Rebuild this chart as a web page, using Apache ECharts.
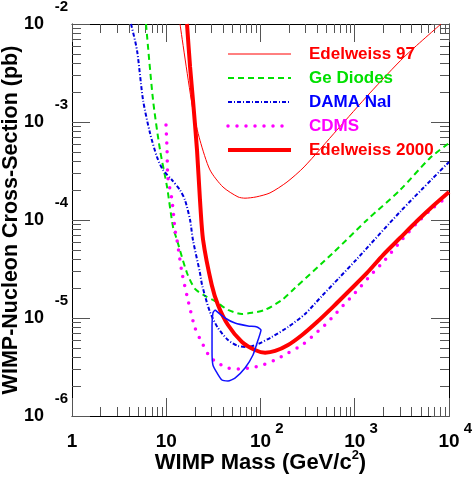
<!DOCTYPE html>
<html>
<head>
<meta charset="utf-8">
<script src="https://cdn.jsdelivr.net/npm/echarts@6/dist/echarts.min.js"></script>
<style>
html,body{margin:0;padding:0;background:#fff;}
#c{width:474px;height:481px;}
</style>
</head>
<body>
<div id="c"></div>
<script>
// ---- axis ranges / ticks ----
const X_MIN = 1, X_MAX = 1e4;
const Y_MIN = 1e-6, Y_MAX = 1e-2;
const xMinorTicks = [2,3,4,5,6,7,8,9,20,30,40,50,60,70,80,90,200,300,400,500,600,700,800,900,2000,3000,4000,5000,6000,7000,8000,9000];
const yMinorTicks = [2e-6,3e-6,4e-6,5e-6,6e-6,7e-6,8e-6,9e-6,2e-5,3e-5,4e-5,5e-5,6e-5,7e-5,8e-5,9e-5,2e-4,3e-4,4e-4,5e-4,6e-4,7e-4,8e-4,9e-4,2e-3,3e-3,4e-3,5e-3,6e-3,7e-3,8e-3,9e-3];

// ---- series data ----
const ed97X = [14.0, 19.2, 22.8, 29.1, 40, 57.7, 68.5, 90, 126, 191, 290, 649, 1452, 3334, 8230];
const ed97Y = [1e-2, 1.32e-3, 6.5e-4, 3.24e-4, 2.17e-4, 1.72e-4, 1.67e-4, 1.72e-4, 1.89e-4, 2.44e-4, 3.48e-4, 8.3e-4, 1.98e-3, 4.6e-3, 1e-2];

const geX = [6.10, 7.24, 8.59, 10.2, 11.8, 13.0, 16.6, 20.2, 25.8, 32.9, 45.2, 63.6, 81.2, 111.6, 169, 232, 588, 1349, 3021, 6286, 1e4];
const geY = [1e-2, 1.68e-3, 5.18e-4, 2.17e-4, 8.48e-5, 6.25e-5, 2.88e-5, 1.98e-5, 1.68e-5, 1.49e-5, 1.21e-5, 1.10e-5, 1.13e-5, 1.21e-5, 1.53e-5, 2.02e-5, 4.61e-5, 1.0e-4, 2.02e-4, 4.29e-4, 6.1e-4];

const damaX = [4.23, 4.89, 5.67, 6.72, 7.98, 9.24, 11.5, 14.0, 15.8, 17.9, 19.2, 22.8, 24.0, 29.1, 35.4, 45.2, 57.7, 73.7, 94.1, 132, 196, 297, 449, 681, 1031, 3021, 6765, 1e4];
const damaY = [1e-2, 5.43e-3, 1.68e-3, 7.72e-4, 4.39e-4, 3.24e-4, 2.56e-4, 2.02e-4, 1.6e-4, 1e-4, 6.25e-5, 2.88e-5, 2.17e-5, 1.15e-5, 7.91e-6, 5.96e-6, 5.18e-6, 5.06e-6, 5.43e-6, 6.40e-6, 8.09e-6, 1.10e-5, 1.68e-5, 2.56e-5, 3.91e-5, 1.21e-4, 2.68e-4, 3.91e-4];

const cdmsX = [9.94, 10.2, 10.4, 11.5, 12.4, 13.0, 14.7, 17.0, 20.2, 24.0, 29.1, 35.4, 45.2, 57.7, 77.4, 104, 143, 196, 276, 379, 520, 698, 1006, 1451, 2094, 3021, 4577, 6765, 1e4];
const cdmsY = [9.32e-4, 5.18e-4, 2.75e-4, 1.6e-4, 7.91e-5, 6.25e-5, 2.88e-5, 1.53e-5, 7.91e-6, 5.56e-6, 4.0e-6, 3.47e-6, 3.09e-6, 3.02e-6, 3.09e-6, 3.31e-6, 3.73e-6, 4.39e-6, 5.30e-6, 6.87e-6, 9.10e-6, 1.24e-5, 1.80e-5, 2.68e-5, 3.91e-5, 5.96e-5, 9.32e-5, 1.33e-4, 1.76e-4];

const ed2000X = [16.6, 17.9, 19.2, 21.2, 22.8, 24.6, 30.4, 35.4, 45.2, 63.6, 87.4, 112, 143, 196, 276, 398, 588, 891, 1349, 1994, 3021, 4577, 6765, 1e4];
const ed2000Y = [1e-2, 3.64e-3, 1.68e-3, 5.18e-4, 1.6e-4, 6.25e-5, 2.17e-5, 1.36e-5, 8.48e-6, 5.69e-6, 4.72e-6, 4.43e-6, 4.61e-6, 5.30e-6, 6.71e-6, 9.10e-6, 1.30e-5, 1.93e-5, 2.88e-5, 4.39e-5, 6.55e-5, 9.77e-5, 1.39e-4, 1.93e-4];

const damaRegionX = [32.9, 42.0, 53.6, 73.7, 91.8, 101.2, 94.1, 83.2, 68.5, 53.6, 45.2, 39.0, 34.6, 31.3, 30.6, 30.6, 31.3, 32.9];
const damaRegionY = [1.21e-5, 1.0e-5, 8.89e-6, 8.29e-6, 8.09e-6, 7.55e-6, 5.96e-6, 4.19e-6, 3.09e-6, 2.44e-6, 2.28e-6, 2.33e-6, 2.75e-6, 3.31e-6, 4.50e-6, 8.48e-6, 1.13e-5, 1.21e-5];

const legendNames = ['Edelweiss 97', 'Ge Diodes', 'DAMA NaI', 'CDMS', 'Edelweiss 2000'];
const legendColors = ['#ff0000', '#00e000', '#0000ff', '#ff00ff', '#ff0000'];

const zip = (xs, ys) => xs.map((x, i) => [x, ys[i]]);
const FONT = 'Liberation Sans, Arial, Helvetica, sans-serif';
const lg = v => Math.round(Math.log10(v));
const TICK = '#555';

const chart = echarts.init(document.getElementById('c'), null, {renderer: 'canvas'});

const axisCommon = {
  type: 'log', logBase: 10,
  splitLine: {show: false},
  minorTick: {show: false},
  minorSplitLine: {show: false},
  nameMoveOverlap: false
};

function minorTickSeries(isX) {
  return {
    type: 'custom', xAxisIndex: 0, yAxisIndex: 0, silent: true, clip: false, z: 1,
    data: isX ? xMinorTicks.map(v => [v, Y_MIN]) : yMinorTicks.map(v => [X_MIN, v]),
    renderItem: function (params, api) {
      const s = {stroke: TICK, lineWidth: 1};
      if (isX) {
        const v = api.value(0);
        const pb = api.coord([v, Y_MIN]);
        const pt = api.coord([v, Y_MAX]);
        const x = Math.round(pb[0]) + 0.5;
        return {type: 'group', children: [
          {type: 'line', shape: {x1: x, y1: pb[1], x2: x, y2: pb[1] - 9}, style: s},
          {type: 'line', shape: {x1: x, y1: pt[1], x2: x, y2: pt[1] + 9}, style: s}
        ]};
      } else {
        const v = api.value(1);
        const pl = api.coord([X_MIN, v]);
        const pr = api.coord([X_MAX, v]);
        const y = Math.round(pl[1]) + 0.5;
        return {type: 'group', children: [
          {type: 'line', shape: {x1: pl[0], y1: y, x2: pl[0] + 9, y2: y}, style: s},
          {type: 'line', shape: {x1: pr[0], y1: y, x2: pr[0] - 9, y2: y}, style: s}
        ]};
      }
    }
  };
}

function lineSeries(name, xs, ys, color, width, dash, extra) {
  return Object.assign({
    name: name, type: 'line', xAxisIndex: 0, yAxisIndex: 0,
    data: zip(xs, ys), showSymbol: false, symbol: 'none', smooth: 0.25,
    clip: true, animation: false,
    lineStyle: {color: color, width: width, type: dash || 'solid'},
    itemStyle: {color: color},
    emphasis: {disabled: true}
  }, extra || {});
}

const gridBase = {containLabel: false, outerBoundsMode: 'none'};
const hiddenX = gi => ({type: 'value', gridIndex: gi, show: false, min: 0, max: 1});
const hiddenY = gi => ({type: 'value', gridIndex: gi, show: false, min: 0, max: 1});

const option = {
  backgroundColor: '#fff',
  animation: false,
  grid: [
    Object.assign({left: 72, right: 25, top: 24, bottom: 65}, gridBase),
    // same scale shifted 19px right: holds x exponents
    Object.assign({left: 91, right: 6, top: 24, bottom: 65}, gridBase),
    // same scale shifted 17px up: holds y exponents
    Object.assign({left: 72, right: 25, top: 7, bottom: 82}, gridBase)
  ],
  legend: {
    orient: 'vertical', left: 226, top: 44, padding: 0,
    itemWidth: 63, itemHeight: 14, itemGap: 4,
    selectedMode: false,
    itemStyle: {opacity: 0},
    textStyle: {fontFamily: FONT, fontSize: 17, fontWeight: 'bold', lineHeight: 20, padding: [0, 0, 0, 13]},
    data: [
      {name: legendNames[0], textStyle: {color: legendColors[0]}, lineStyle: {width: 1}},
      {name: legendNames[1], textStyle: {color: legendColors[1]}, lineStyle: {width: 2}},
      {name: legendNames[2], textStyle: {color: legendColors[2]}, lineStyle: {width: 2}},
      {name: legendNames[3], textStyle: {color: legendColors[3]}, lineStyle: {width: 3.5}},
      {name: legendNames[4], textStyle: {color: legendColors[4]}, lineStyle: {width: 4}}
    ]
  },
  xAxis: [
    Object.assign({}, axisCommon, {
      gridIndex: 0, position: 'bottom', min: X_MIN, max: X_MAX,
      name: 'WIMP Mass (GeV/c{s|2})', nameLocation: 'middle', nameGap: 33,
      nameTextStyle: {fontFamily: FONT, fontSize: 22, fontWeight: 'bold', color: '#000',
        rich: {s: {fontFamily: FONT, fontSize: 13, fontWeight: 'bold', color: '#000', verticalAlign: 'top', padding: [0, 0, 14, 0]}}},
      axisLine: {show: true, lineStyle: {color: '#000', width: 1}},
      axisTick: {show: true, inside: true, length: 18, lineStyle: {color: TICK, width: 1}},
      axisLabel: {show: true, margin: 16, showMinLabel: true, showMaxLabel: true,
        fontFamily: FONT, fontSize: 19, fontWeight: 'bold', color: '#000',
        formatter: v => (lg(v) === 0 ? '1' : '10')}
    }),
    Object.assign({}, axisCommon, {
      gridIndex: 0, position: 'top', min: X_MIN, max: X_MAX,
      axisLine: {show: true, lineStyle: {color: '#000', width: 1}},
      axisTick: {show: true, inside: true, length: 18, lineStyle: {color: TICK, width: 1}},
      axisLabel: {show: false}
    }),
    Object.assign({}, axisCommon, {
      gridIndex: 1, position: 'bottom', min: X_MIN, max: X_MAX,
      axisLine: {show: false}, axisTick: {show: false},
      axisLabel: {show: true, margin: 5, showMinLabel: true, showMaxLabel: true,
        fontFamily: FONT, fontSize: 15, fontWeight: 'bold', color: '#000',
        formatter: v => (lg(v) >= 2 ? String(lg(v)) : '')}
    }),
    hiddenX(2)
  ],
  yAxis: [
    Object.assign({}, axisCommon, {
      gridIndex: 0, position: 'left', min: Y_MIN, max: Y_MAX,
      name: 'WIMP-Nucleon Cross-Section (pb)', nameLocation: 'middle', nameGap: 50, nameRotate: 90,
      nameTextStyle: {fontFamily: FONT, fontSize: 21.5, fontWeight: 'bold', color: '#000'},
      axisLine: {show: true, lineStyle: {color: '#000', width: 1}},
      axisTick: {show: true, inside: true, length: 18, lineStyle: {color: TICK, width: 1}},
      axisLabel: {show: true, margin: 28, showMinLabel: true, showMaxLabel: true,
        fontFamily: FONT, fontSize: 18, fontWeight: 'bold', color: '#000',
        formatter: () => '10'}
    }),
    Object.assign({}, axisCommon, {
      gridIndex: 0, position: 'right', min: Y_MIN, max: Y_MAX,
      axisLine: {show: true, lineStyle: {color: '#000', width: 1}},
      axisTick: {show: true, inside: true, length: 18, lineStyle: {color: TICK, width: 1}},
      axisLabel: {show: false}
    }),
    hiddenY(1),
    Object.assign({}, axisCommon, {
      gridIndex: 2, position: 'left', min: Y_MIN, max: Y_MAX,
      axisLine: {show: false}, axisTick: {show: false},
      axisLabel: {show: true, margin: 4, showMinLabel: true, showMaxLabel: true,
        fontFamily: FONT, fontSize: 15, fontWeight: 'bold', color: '#000',
        formatter: v => String(lg(v))}
    })
  ],
  series: [
    minorTickSeries(true),
    minorTickSeries(false),
    lineSeries('Edelweiss 97', ed97X, ed97Y, '#ff0000', 1, 'solid', {z: 3}),
    lineSeries('Ge Diodes', geX, geY, '#00e000', 2, [6, 4], {z: 3}),
    lineSeries('DAMA NaI', damaX, damaY, '#0000dd', 2, [4, 2, 1, 2], {z: 3}),
    lineSeries('CDMS', cdmsX, cdmsY, '#ff00ff', 3.5, [0, 9], {z: 3, lineStyle: {color: '#ff00ff', width: 3.5, type: [0, 9], cap: 'round'}}),
    lineSeries('Edelweiss 2000', ed2000X, ed2000Y, '#ff0000', 4, 'solid', {z: 4}),
    lineSeries('DAMA region', damaRegionX, damaRegionY, '#1010ff', 1.5, 'solid', {z: 4, smooth: 0.2})
  ]
};

chart.setOption(option);
</script>
</body>
</html>
